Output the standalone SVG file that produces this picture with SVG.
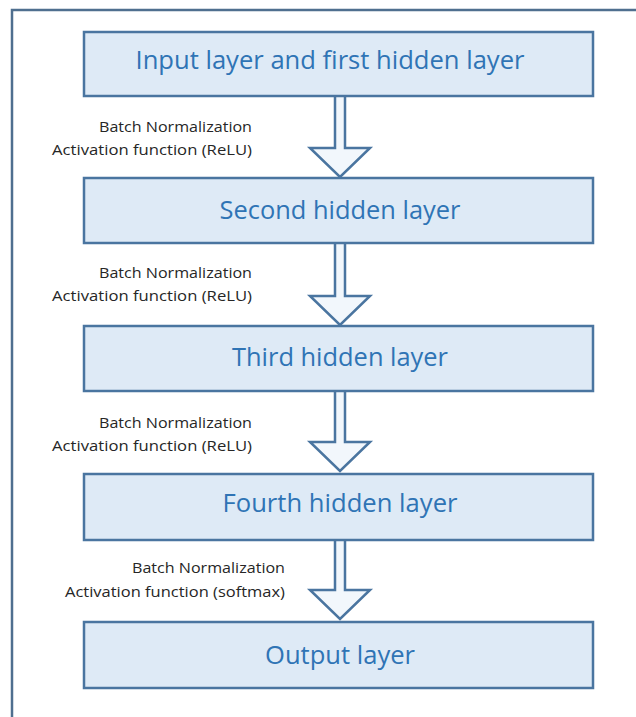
<svg xmlns="http://www.w3.org/2000/svg" width="636" height="717" viewBox="0 0 636 717">
<style>
.box{fill:#deeaf6;stroke:#4a75a0;stroke-width:2.5}
.title{font-family:"Open Sans","Liberation Sans",sans-serif;font-size:25px;fill:#2f74b5;text-anchor:middle}
.lbl{font-family:"Open Sans","Liberation Sans",sans-serif;font-size:15px;fill:#262626;text-anchor:end}
.arr{fill:#f2f7fc;stroke:#4a75a0;stroke-width:2.5;stroke-linejoin:miter}
</style>
<rect width="636" height="717" fill="#ffffff"/>
<path d="M12 717 V10 H636" fill="none" stroke="#4f6f8f" stroke-width="2.5"/>
<g id="connectors">
<path class="arr" d="M335 96 V148 H310 L340 177 L370 148 H345 V96"/>
<path class="arr" d="M335 243 V296 H310 L340 325 L370 296 H345 V243"/>
<path class="arr" d="M335 391 V442 H310 L340 471 L370 442 H345 V391"/>
<path class="arr" d="M335 540 V590 H310 L340 619 L370 590 H345 V540"/>
<text class="lbl" x="252" y="132" textLength="153" lengthAdjust="spacingAndGlyphs">Batch Normalization</text>
<text class="lbl" x="252" y="155" textLength="200" lengthAdjust="spacingAndGlyphs">Activation function (ReLU)</text>
<text class="lbl" x="252" y="278" textLength="153" lengthAdjust="spacingAndGlyphs">Batch Normalization</text>
<text class="lbl" x="252" y="301" textLength="200" lengthAdjust="spacingAndGlyphs">Activation function (ReLU)</text>
<text class="lbl" x="252" y="428" textLength="153" lengthAdjust="spacingAndGlyphs">Batch Normalization</text>
<text class="lbl" x="252" y="451" textLength="200" lengthAdjust="spacingAndGlyphs">Activation function (ReLU)</text>
<text class="lbl" x="285" y="573" textLength="153" lengthAdjust="spacingAndGlyphs">Batch Normalization</text>
<text class="lbl" x="285" y="597" textLength="220" lengthAdjust="spacingAndGlyphs">Activation function (softmax)</text>
</g>
<g id="n1"><rect class="box" x="84" y="32" width="509" height="64"/><text class="title" x="330" y="69" textLength="389" lengthAdjust="spacingAndGlyphs">Input layer and first hidden layer</text></g>
<g id="n2"><rect class="box" x="84" y="178" width="509" height="65"/><text class="title" x="340" y="219" textLength="241" lengthAdjust="spacingAndGlyphs">Second hidden layer</text></g>
<g id="n3"><rect class="box" x="84" y="326" width="509" height="65"/><text class="title" x="340" y="366" textLength="216" lengthAdjust="spacingAndGlyphs">Third hidden layer</text></g>
<g id="n4"><rect class="box" x="84" y="474" width="509" height="66"/><text class="title" x="340" y="512" textLength="235" lengthAdjust="spacingAndGlyphs">Fourth hidden layer</text></g>
<g id="n5"><rect class="box" x="84" y="622" width="509" height="66"/><text class="title" x="340" y="664" textLength="150" lengthAdjust="spacingAndGlyphs">Output layer</text></g>
</svg>
